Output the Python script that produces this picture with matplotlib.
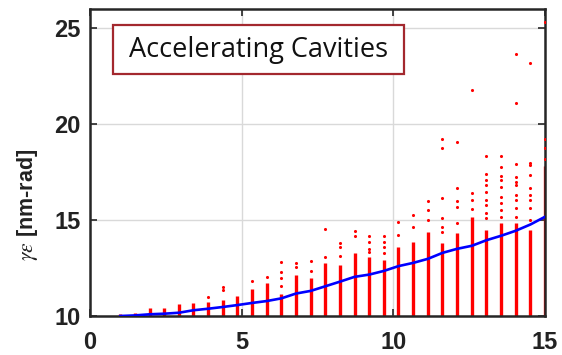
import numpy as np
import matplotlib
matplotlib.use("Agg")
import matplotlib.pyplot as plt
from matplotlib.patches import Rectangle

# Column positions (accelerating cavity count axis)
x_cols = [1.00, 1.48, 1.97, 2.45, 2.93, 3.41, 3.90, 4.38, 4.86, 5.34,
          5.83, 6.31, 6.79, 7.28, 7.76, 8.24, 8.72, 9.21, 9.69, 10.17,
          10.66, 11.14, 11.62, 12.10, 12.59, 13.07, 13.55, 14.03, 14.52, 15.00]

# Mean emittance per column
mean_emit = [10.00, 10.03, 10.09, 10.12, 10.17, 10.30, 10.38, 10.47, 10.57, 10.68,
             10.78, 10.92, 11.17, 11.31, 11.55, 11.79, 12.04, 12.16, 12.35, 12.60,
             12.77, 12.98, 13.29, 13.50, 13.66, 13.95, 14.18, 14.44, 14.77, 15.17]

# Upper edge of the densely populated band of seeds in each column
dense_top = [10.08, 10.18, 10.42, 10.40, 10.60, 10.70, 10.75, 10.83, 11.05, 11.39,
             11.70, 11.15, 12.13, 11.96, 12.74, 12.66, 13.26, 13.09, 12.92, 13.61,
             13.87, 14.39, 13.78, 14.30, 15.17, 14.48, 14.83, 14.83, 14.48, 17.80]

# Individual seeds above the dense band
outliers = [
    [], [], [], [], [], [],
    [10.97],
    [11.35, 11.52],
    [],
    [11.84],
    [12.03],
    [11.56, 11.96, 12.27, 12.83],
    [12.57, 12.74],
    [12.36, 12.88],
    [13.10, 14.53],
    [13.13, 13.58, 13.78],
    [14.17, 14.45],
    [13.32, 13.50, 13.85, 14.17],
    [13.30, 13.60, 13.85, 14.17],
    [14.22, 14.91],
    [14.65, 15.26],
    [15.00, 15.52, 15.99],
    [14.39, 14.62, 15.09, 16.16, 18.75, 19.20],
    [14.83, 15.69, 16.00, 16.65, 19.08],
    [15.60, 16.04, 16.42, 21.78],
    [15.09, 15.38, 15.78, 16.04, 16.48, 16.82, 17.08, 17.40, 18.35],
    [15.17, 15.52, 15.87, 16.22, 16.74, 17.08, 17.30, 17.74, 18.35],
    [15.17, 15.61, 16.04, 16.30, 16.82, 17.00, 17.26, 17.92, 21.08, 23.65],
    [15.00, 15.61, 16.04, 16.30, 16.65, 17.34, 17.86, 17.95, 23.20],
    [18.20, 18.73, 19.25, 25.30],
]

x_ticks = [0, 5, 10, 15]
y_ticks = [10, 15, 20, 25]

W, H, DPI = 562, 355, 100
fig = plt.figure(figsize=(W / DPI, H / DPI), dpi=DPI)
fig.patch.set_facecolor("white")

# axes box in pixels: left 90, right 545, top 9, bottom 316
L, R, T, B = 90, 545, 9, 316
ax = fig.add_axes([L / W, 1 - B / H, (R - L) / W, (B - T) / H])
ax.set_axisbelow(True)

# dense bands
ax.vlines(x_cols, 10, dense_top, colors="#ff0000", linewidth=2.4, zorder=2)

# sparse seeds
ox, oy = [], []
for xc, vals in zip(x_cols, outliers):
    for v in vals:
        ox.append(xc)
        oy.append(v)
ax.scatter(ox, oy, s=5, color="#ff0000", linewidths=0, zorder=3)

# mean curve
ax.plot(x_cols, mean_emit, color="#0000ff", linewidth=1.9, zorder=4)

ax.set_xlim(0, 15)
ax.set_ylim(10, 26)
ax.set_xticks(x_ticks)
ax.set_yticks(y_ticks)

tick_font = dict(family="Liberation Sans", weight="bold", size=17)
ax.set_xticklabels([str(t) for t in x_ticks], fontdict=tick_font, color="#222222")
ax.set_yticklabels([str(t) for t in y_ticks], fontdict=tick_font, color="#222222")
ax.tick_params(direction="in", length=5, width=1.2, color="#262626",
               top=True, right=True)
ax.tick_params(axis="y", pad=7)
ax.tick_params(axis="x", pad=11)

ax.grid(True, color="#d9d9d9", linewidth=1.0)
for sp in ax.spines.values():
    sp.set_color("#262626")
    sp.set_linewidth(1.8)

# y label: Greek symbols in a serif face, unit in bold sans
plt.rcParams["mathtext.fontset"] = "stix"
fig.text(27 / W, 1 - 205 / H, r"$\gamma\epsilon$ [nm-rad]", rotation=90,
         ha="center", va="center", fontsize=15.5, fontweight="bold",
         family="Liberation Sans", color="#222222")

# annotation box
bx0, by0, bx1, by1 = 113, 25, 404, 74
ax.add_patch(Rectangle(((bx0 - L) / (R - L), (B - by1) / (B - T)),
                       (bx1 - bx0) / (R - L), (by1 - by0) / (B - T),
                       transform=ax.transAxes, facecolor="white",
                       edgecolor="#a3282e", linewidth=1.6, zorder=6))
ax.text(((bx0 + bx1) / 2 - L) / (R - L), (B - (by0 + by1) / 2) / (B - T),
        "Accelerating Cavities", transform=ax.transAxes, ha="center",
        va="center", fontsize=19.5, family="Open Sans", color="#111111", zorder=7)

fig.savefig("out.png", dpi=DPI)
